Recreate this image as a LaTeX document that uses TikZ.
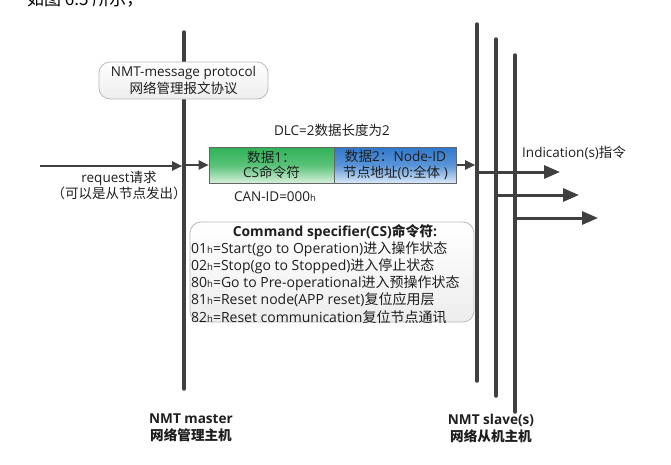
\documentclass[tikz,border=0pt]{standalone}
\usepackage{fontspec}
\setmainfont{Open Sans}
\newfontfamily\cjk{Noto Sans CJK SC}
\newcommand{\zh}[1]{{\cjk #1}}
\usetikzlibrary{arrows.meta}
\definecolor{linegray}{HTML}{404040}
\definecolor{txt}{HTML}{1E1E1E}
\definecolor{gtop}{HTML}{2FB257}
\definecolor{gbot}{HTML}{D6F0DA}
\definecolor{btop}{HTML}{2F78CC}
\definecolor{bbot}{HTML}{D8E8F8}
\newcommand{\hsub}{{\fontsize{9.5}{9.5}\selectfont h}}
\tikzset{
  lifeline/.style={line width=3.5pt, draw=linegray, line cap=round},
  flowarrow/.style={line width=2pt, draw=linegray, -{Triangle[length=10pt,width=9pt]}},
  indarrow/.style={line width=3pt, draw=linegray, -{Triangle[length=16pt,width=13pt]}},
  roundbox/.style={rounded corners=11pt, draw=gray!55, line width=0.8pt, top color=white, bottom color=gray!14},
  databox/.style={draw=gray!80!black, line width=0.6pt, minimum height=36pt, inner sep=0pt, align=center, font=\fontsize{13.6}{15.5}\selectfont, text=txt},
  plain/.style={inner sep=0pt, text=txt, font=\fontsize{13.5}{16}\selectfont, align=center},
  bottomlabel/.style={inner sep=0pt, text=txt, font=\bfseries\fontsize{13.6}{17}\selectfont, align=center},
}
\begin{document}
\begin{tikzpicture}[x=1pt,y=-1pt]
\useasboundingbox (0,0) rectangle (671,464);
\clip (0,0) rectangle (671,464);
% top cut-off text
\node[inner sep=0pt, font=\cjk\fontsize{17}{17}\selectfont, anchor=base west] (cap) at (27,5) {如图\ 6.5\ 所示，};
% lifelines
\coordinate (mtop) at (184,32);
\coordinate (mbot) at (184,389);
\coordinate (s1top) at (477,24);
\coordinate (s1bot) at (477,381);
\coordinate (s2top) at (496,39);
\coordinate (s2bot) at (496,396);
\coordinate (s3top) at (515,55);
\coordinate (s3bot) at (515,412);
\draw[lifeline] (mtop) -- (mbot);
\draw[lifeline] (s1top) -- (s1bot);
\draw[lifeline] (s2top) -- (s2bot);
\draw[lifeline] (s3top) -- (s3bot);
% protocol box
\node[roundbox, minimum width=169pt, minimum height=37pt, inner sep=0pt, align=center, text=txt, font=\fontsize{13.5}{17}\selectfont] (proto) at (183.5,80.5) {NMT-message protocol\\\zh{网络管理报文协议}};
% DLC
\node[plain] (dlc) at (332,130) {DLC=2\zh{数据长度为}2};
% data boxes
\node[databox, minimum width=125pt, top color=gtop, bottom color=gbot, middle color=gtop!75!gbot] (d1) at (271.5,165) {\zh{数据}1\zh{：}\\CS\zh{命令符}};
\node[databox, minimum width=122pt, top color=btop, bottom color=bbot, middle color=btop!75!bbot] (d2) at (395.5,165) {\zh{数据}2\zh{：}Node-ID\\\zh{节点地址}(0:\zh{全体}\ )};
% request
\coordinate (req) at (40,166);
\draw[flowarrow, shorten >=1.8pt] (req) -- (req -| mtop);
\node[plain] (reqtxt) at (119,178) {request\zh{请求}};
\node[plain] (reqtxt2) at (119,193) {\zh{（可以是从节点发出）}};
\draw[flowarrow, shorten <=2pt] (d1.west -| mtop) -- (d1.west);
\draw[flowarrow, shorten >=1.8pt] (d2.east) -- (d2.east -| s1top);
\node[plain] (canid) at (275,197) {CAN-ID=000\hsub};
% indications
\node[plain, anchor=west] (ind) at (522,153) {Indication(s)\zh{指令}};
\coordinate (i1) at (560,172);
\coordinate (i2) at (579,195);
\coordinate (i3) at (598,218);
\draw[indarrow] (i1 -| s1top) -- (i1);
\draw[indarrow] (i2 -| s2top) -- (i2);
\draw[indarrow] (i3 -| s3top) -- (i3);
% CS box
\node[roundbox, minimum width=284pt, minimum height=100pt] (cs) at (332,272) {};
\node[inner sep=0pt, text=txt, font=\bfseries\fontsize{13.8}{16}\selectfont] (cstitle) at (335,232) {Command specifier(CS)\zh{命令符}:};
\node[plain, anchor=west, align=left, font=\fontsize{14}{17.2}\selectfont] (cslist) at (191,282.5) {01\hsub=Start(go to Operation)\zh{进入操作状态}\\02\hsub=Stop(go to Stopped)\zh{进入停止状态}\\80\hsub=Go to Pre-operational\zh{进入预操作状态}\\81\hsub=Reset node(APP reset)\zh{复位应用层}\\82\hsub=Reset communication\zh{复位节点通讯}};
% bottom labels
\node[bottomlabel] (master) at (191,428) {NMT master\\\zh{网络管理主机}};
\node[bottomlabel] (slave) at (491,428) {NMT slave(s)\\\zh{网络从机主机}};
\end{tikzpicture}
\end{document}
